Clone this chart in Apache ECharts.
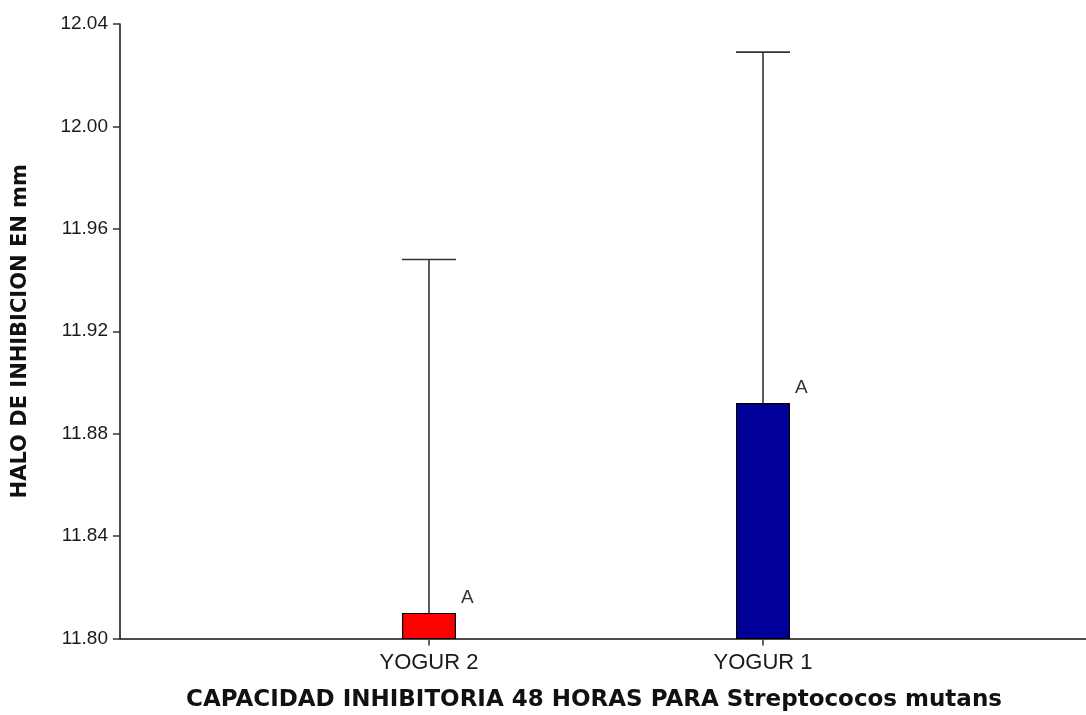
<!DOCTYPE html>
<html>
<head>
<meta charset="utf-8">
<script src="https://cdn.jsdelivr.net/npm/echarts@6/dist/echarts.min.js"></script>
<style>
html,body{margin:0;padding:0;background:#fff;}
#chart{width:1086px;height:715px;}
</style>
</head>
<body>
<div id="chart"></div>
<script>
// Data
var categories = ['YOGUR 2', 'YOGUR 1'];
var positions = [1, 2];
var means = [11.810, 11.892];
var upperErrors = [11.948, 12.029];
var letters = ['A', 'A'];
var barColors = ['#ff0000', '#000099'];
var yTicks = [11.80, 11.84, 11.88, 11.92, 11.96, 12.00, 12.04];

var chart = echarts.init(document.getElementById('chart'), null, {renderer: 'canvas'});

var barData = positions.map(function (p, i) {
  return {value: [p, means[i]], itemStyle: {color: barColors[i]}};
});
var errData = positions.map(function (p, i) {
  return [p, means[i], upperErrors[i], i];
});

var BAR_W = 54;

var option = {
  backgroundColor: '#ffffff',
  animation: false,
  grid: {left: 120, right: 0, top: 24, bottom: 76.5, containLabel: false, outerBoundsMode: 'none'},
  xAxis: {
    type: 'value',
    min: 0.075,
    max: 2.967,
    name: 'CAPACIDAD INHIBITORIA 48 HORAS PARA Streptococos mutans',
    nameLocation: 'middle',
    nameGap: 50,
    nameTextStyle: {fontFamily: 'DejaVu Sans', fontWeight: 'bold', fontSize: 23, color: '#111', padding: [0, 18, 0, 0]},
    axisLine: {show: true, onZero: false, lineStyle: {color: '#111', width: 1.5}},
    axisTick: {show: true, customValues: positions, length: 7, lineStyle: {color: '#333', width: 1.5}},
    axisLabel: {
      show: true,
      customValues: positions,
      margin: 13,
      fontFamily: 'Liberation Sans, Arial, sans-serif',
      fontSize: 22,
      color: '#1a1a1a',
      formatter: function (v) {
        var idx = positions.indexOf(Math.round(v));
        return idx >= 0 ? categories[idx] : '';
      }
    },
    splitLine: {show: false}
  },
  yAxis: {
    type: 'value',
    min: 11.80,
    max: 12.04,
    interval: 0.04,
    name: 'HALO DE INHIBICION EN mm',
    nameLocation: 'middle',
    nameGap: 89,
    nameTextStyle: {fontFamily: 'DejaVu Sans', fontWeight: 'bold', fontSize: 21, color: '#111'},
    axisLine: {show: true, lineStyle: {color: '#111', width: 1.5}},
    axisTick: {show: true, length: 7, lineStyle: {color: '#333', width: 1.5}},
    axisLabel: {
      margin: 12,
      fontFamily: 'Liberation Sans, Arial, sans-serif',
      fontSize: 19,
      color: '#1a1a1a',
      formatter: function (v) { return v.toFixed(2); }
    },
    splitLine: {show: false}
  },
  series: [
    {
      type: 'bar',
      data: barData,
      barWidth: BAR_W,
      itemStyle: {borderColor: '#000', borderWidth: 1.2},
      z: 2
    },
    {
      type: 'custom',
      data: errData,
      z: 3,
      renderItem: function (params, api) {
        var x = api.value(0);
        var top = api.coord([x, api.value(1)]);
        var up = api.coord([x, api.value(2)]);
        var idx = api.value(3);
        var half = BAR_W / 2;
        return {
          type: 'group',
          children: [
            {type: 'line', shape: {x1: top[0], y1: top[1], x2: up[0], y2: up[1]},
             style: {stroke: '#333', lineWidth: 1.6}},
            {type: 'line', shape: {x1: up[0] - half, y1: up[1], x2: up[0] + half, y2: up[1]},
             style: {stroke: '#333', lineWidth: 1.6}},
            {type: 'text', x: top[0] + half + 5, y: top[1] - 15,
             style: {text: letters[idx], fontFamily: 'Liberation Sans, Arial, sans-serif', fontSize: 19,
                     fill: '#333', align: 'left', verticalAlign: 'middle'}}
          ]
        };
      }
    }
  ]
};
chart.setOption(option);
</script>
</body>
</html>
